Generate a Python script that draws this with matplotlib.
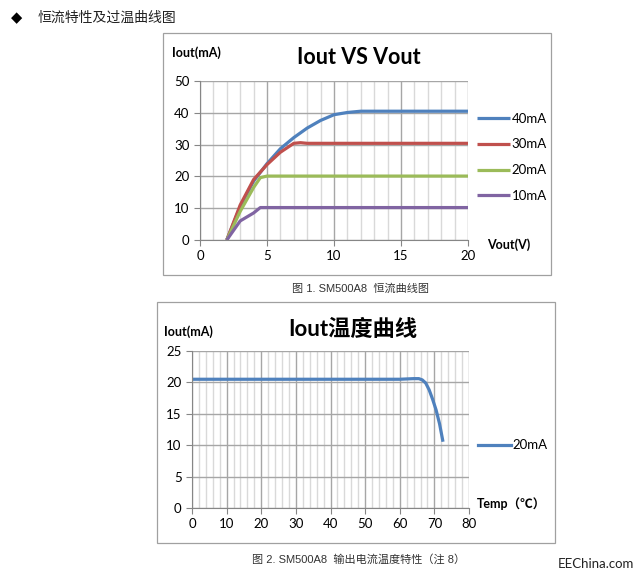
import matplotlib
matplotlib.use('Agg')
import matplotlib.pyplot as plt
from matplotlib.patches import Rectangle

plt.rcParams['font.family'] = ['Lato', 'Noto Sans CJK SC', 'DejaVu Sans']

W, H = 639, 576

# chart 1: Iout vs Vout
series_names = ['40mA', '30mA', '20mA', '10mA']
series_colors = ['#4F81BD', '#C0504D', '#9BBB59', '#8064A2']
vout_40 = [2, 3, 4, 5, 6, 7, 8, 9, 10, 11, 12, 13, 20]
iout_40 = [0, 10.5, 18.5, 24, 28.7, 32.2, 35.2, 37.6, 39.4, 40.1, 40.5, 40.5, 40.5]
vout_30 = [2, 3, 4, 5, 6, 7, 7.5, 8, 20]
iout_30 = [0, 11, 19, 23.7, 27.6, 30.4, 30.6, 30.4, 30.4]
vout_20 = [2, 3, 4, 4.5, 5, 20]
iout_20 = [0, 9, 16.5, 19.6, 20.1, 20.1]
vout_10 = [2, 3, 4, 4.5, 20]
iout_10 = [0, 6, 8.5, 10.2, 10.2]

# chart 2: Iout vs temperature
temp = [0, 60, 64, 65.5, 66.5, 67.5, 68.5, 69.5, 70.5, 71.5, 72.4]
iout_t = [20.5, 20.5, 20.6, 20.6, 20.4, 19.9, 18.8, 17.3, 15.6, 13.4, 10.8]


def px(x0, y0, x1, y1):
    return [x0 / W, 1 - y1 / H, (x1 - x0) / W, (y1 - y0) / H]


def style_axes(ax):
    for s in ['top', 'right']:
        ax.spines[s].set_visible(False)
    for s in ['left', 'bottom']:
        ax.spines[s].set_color('#868686')
        ax.spines[s].set_linewidth(0.8)
    ax.tick_params(axis='both', which='major', colors='#868686', length=4,
                   labelsize=9.5, labelcolor='black', width=0.8)
    ax.tick_params(axis='x', which='minor', length=0)
    ax.set_axisbelow(True)


fig = plt.figure(figsize=(W / 100, H / 100), dpi=100)

# frames around the two charts
fig.patches.append(Rectangle((163 / W, 1 - 275 / H), (551 - 163) / W, (275 - 33) / H,
                             transform=fig.transFigure, fill=False, ec='#A0A0A0', lw=0.9))
fig.patches.append(Rectangle((157 / W, 1 - 543 / H), (555 - 157) / W, (543 - 302) / H,
                             transform=fig.transFigure, fill=False, ec='#A0A0A0', lw=0.9))

fig.text(11 / W, 1 - 18 / H, '\u25c6', fontsize=10.5, va='center', ha='left',
         family=['DejaVu Sans'])
fig.text(38 / W, 1 - 18 / H, '恒流特性及过温曲线图', fontsize=10, va='center', ha='left',
         family=['Noto Sans CJK SC'], color='#222222')

# ---- chart 1
ax1 = fig.add_axes(px(200, 81, 468, 240))
style_axes(ax1)
xs = [vout_40, vout_30, vout_20, vout_10]
ys = [iout_40, iout_30, iout_20, iout_10]
for x, y, name, c in zip(xs, ys, series_names, series_colors):
    ax1.plot(x, y, color=c, lw=2.3, label=name, solid_capstyle='butt')
ax1.set_xlim(0, 20)
ax1.set_ylim(0, 50)
ax1.set_xticks(range(0, 21, 5))
ax1.set_xticks(range(0, 21, 1), minor=True)
ax1.set_yticks(range(0, 51, 10))
ax1.grid(axis='x', which='minor', color='#D9D9D9', lw=1.0)
ax1.grid(axis='x', which='major', color='#A6A6A6', lw=1.0)
ax1.grid(axis='y', which='major', color='#A6A6A6', lw=1.0)
ax1.legend(loc='center left', bbox_to_anchor=(1.0, 0.52), frameon=False, fontsize=9.5,
           handlelength=2.5, handletextpad=0.1, labelspacing=1.05, borderaxespad=0.3)
fig.text(297 / W, 1 - 58 / H, 'Iout VS Vout', fontsize=15.5, fontweight='bold',
         ha='left', va='center')
fig.text(172 / W, 1 - 53 / H, 'Iout(mA)', fontsize=9, fontweight='bold',
         ha='left', va='center')
fig.text(487 / W, 1 - 245 / H, 'Vout(V)', fontsize=9, fontweight='bold',
         ha='left', va='center')
fig.text(360 / W, 1 - 289 / H, '图 1. SM500A8  恒流曲线图', fontsize=8,
         ha='center', va='center', color='#333333', family=['Liberation Sans', 'Noto Sans CJK SC'])

# ---- chart 2
ax2 = fig.add_axes(px(192, 351, 469, 508))
style_axes(ax2)
ax2.plot(temp, iout_t, color='#4F81BD', lw=2.3, label='20mA')
ax2.set_xlim(0, 80)
ax2.set_ylim(0, 25)
ax2.set_xticks(range(0, 81, 10))
ax2.set_xticks(range(0, 81, 2), minor=True)
ax2.set_yticks(range(0, 26, 5))
ax2.grid(axis='x', which='minor', color='#D9D9D9', lw=1.0)
ax2.grid(axis='x', which='major', color='#A6A6A6', lw=1.0)
ax2.grid(axis='y', which='major', color='#A6A6A6', lw=1.0)
ax2.legend(loc='center left', bbox_to_anchor=(1.0, 0.40), frameon=False, fontsize=9.5,
           handlelength=2.5, handletextpad=0.1, borderaxespad=0.3)
fig.text(288 / W, 1 - 329 / H, 'Iout温度曲线', fontsize=16, fontweight='bold',
         ha='left', va='center')
fig.text(164 / W, 1 - 332 / H, 'Iout(mA)', fontsize=9, fontweight='bold',
         ha='left', va='center')
fig.text(477 / W, 1 - 504 / H, 'Temp（℃）', fontsize=9, fontweight='bold',
         ha='left', va='center')
fig.text(359 / W, 1 - 559 / H, '图 2. SM500A8  输出电流温度特性（注 8）', fontsize=8,
         ha='center', va='center', color='#333333', family=['Liberation Sans', 'Noto Sans CJK SC'])

fig.text(558 / W, 1 - 564 / H, 'EEChina.com', fontsize=9.5, ha='left', va='center',
         color='#222222')

fig.savefig('out.png', dpi=100)
